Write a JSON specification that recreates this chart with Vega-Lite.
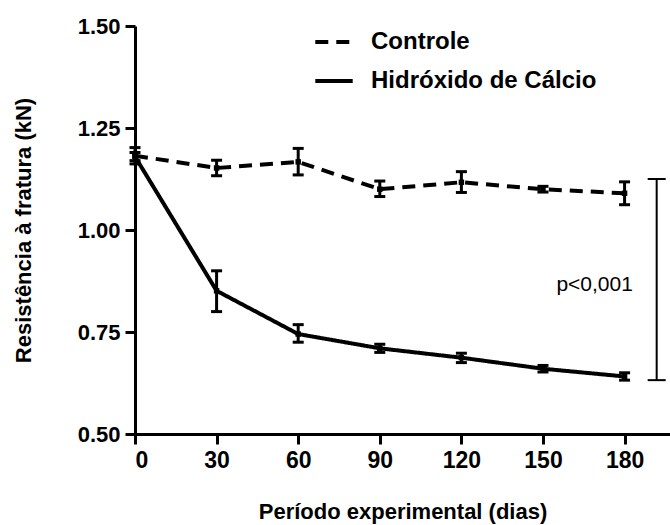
{
  "$schema": "https://vega.github.io/schema/vega-lite/v6.json",
  "autosize": "none",
  "width": 535,
  "height": 408,
  "padding": {"left": 135, "top": 26, "right": 0, "bottom": 91},
  "background": "white",
  "config": {
    "view": {"stroke": null},
    "font": "Liberation Sans",
    "axis": {
      "grid": false,
      "domainColor": "black",
      "domainWidth": 3,
      "tickColor": "black",
      "tickWidth": 3,
      "tickSize": 10,
      "labelFont": "Liberation Sans",
      "labelFontWeight": "bold",
      "labelFontSize": 22,
      "labelColor": "black",
      "labelPadding": 3,
      "titleFont": "Liberation Sans",
      "titleFontWeight": "bold",
      "titleFontSize": 22,
      "titleColor": "black"
    }
  },
  "datasets": {
    "series": [
      {"grupo": "Controle", "dia": 0, "media": 1.182, "lo": 1.162, "hi": 1.202},
      {"grupo": "Controle", "dia": 30, "media": 1.152, "lo": 1.133, "hi": 1.171},
      {"grupo": "Controle", "dia": 60, "media": 1.167, "lo": 1.135, "hi": 1.2},
      {"grupo": "Controle", "dia": 90, "media": 1.1, "lo": 1.082, "hi": 1.12},
      {"grupo": "Controle", "dia": 120, "media": 1.117, "lo": 1.092, "hi": 1.143},
      {"grupo": "Controle", "dia": 150, "media": 1.1, "lo": 1.093, "hi": 1.107},
      {"grupo": "Controle", "dia": 180, "media": 1.09, "lo": 1.062, "hi": 1.118},
      {"grupo": "Hidróxido de Cálcio", "dia": 0, "media": 1.18, "lo": 1.17, "hi": 1.19},
      {"grupo": "Hidróxido de Cálcio", "dia": 30, "media": 0.851, "lo": 0.8, "hi": 0.9},
      {"grupo": "Hidróxido de Cálcio", "dia": 60, "media": 0.745, "lo": 0.725, "hi": 0.768},
      {"grupo": "Hidróxido de Cálcio", "dia": 90, "media": 0.71, "lo": 0.7, "hi": 0.72},
      {"grupo": "Hidróxido de Cálcio", "dia": 120, "media": 0.687, "lo": 0.675, "hi": 0.698},
      {"grupo": "Hidróxido de Cálcio", "dia": 150, "media": 0.66, "lo": 0.652, "hi": 0.668},
      {"grupo": "Hidróxido de Cálcio", "dia": 180, "media": 0.641, "lo": 0.632, "hi": 0.65}
    ],
    "bracket": [
      {"x": 191.8, "y1": 0.632, "y2": 1.125}
    ],
    "nota": [
      {"x": 169, "y": 0.865, "texto": "p<0,001"}
    ]
  },
  "layer": [
    {
      "data": {"name": "series"},
      "mark": {"type": "rule", "color": "black", "strokeWidth": 3, "opacity": 1},
      "encoding": {
        "x": {"field": "dia", "type": "quantitative"},
        "y": {"field": "lo", "type": "quantitative"},
        "y2": {"field": "hi"}
      }
    },
    {
      "data": {"name": "series"},
      "mark": {"type": "tick", "orient": "horizontal", "color": "black", "size": 11, "thickness": 3, "opacity": 1},
      "encoding": {
        "x": {"field": "dia", "type": "quantitative"},
        "y": {"field": "lo", "type": "quantitative"}
      }
    },
    {
      "data": {"name": "series"},
      "mark": {"type": "tick", "orient": "horizontal", "color": "black", "size": 11, "thickness": 3, "opacity": 1},
      "encoding": {
        "x": {"field": "dia", "type": "quantitative"},
        "y": {"field": "hi", "type": "quantitative"}
      }
    },
    {
      "data": {"name": "series"},
      "mark": {"type": "line", "color": "black", "strokeWidth": 4, "opacity": 1},
      "encoding": {
        "x": {
          "field": "dia", "type": "quantitative",
          "scale": {"domain": [0, 196.7], "nice": false, "zero": false},
          "axis": {"values": [0, 30, 60, 90, 120, 150, 180], "title": "Período experimental (dias)", "titlePadding": 29, "labelPadding": 5, "labelFontSize": 23}
        },
        "y": {
          "field": "media", "type": "quantitative",
          "scale": {"domain": [0.5, 1.5], "nice": false, "zero": false},
          "axis": {"values": [0.5, 0.75, 1, 1.25, 1.5], "format": ".2f", "title": "Resistência à fratura (kN)", "titlePadding": 42, "labelPadding": 5}
        },
        "strokeDash": {
          "field": "grupo", "type": "nominal",
          "scale": {"domain": ["Controle", "Hidróxido de Cálcio"], "range": [[13, 8], [1, 0]]},
          "legend": {
            "title": null,
            "orient": "none",
            "legendX": 178,
            "legendY": -5,
            "symbolType": "stroke",
            "symbolSize": 1400,
            "symbolStrokeWidth": 4,
            "symbolStrokeColor": "black",
            "labelFont": "Liberation Sans",
            "labelFontWeight": "bold",
            "labelFontSize": 24,
            "labelColor": "black",
            "labelOffset": 16,
            "labelLimit": 0,
            "rowPadding": 6
          }
        }
      }
    },
    {
      "data": {"name": "series"},
      "mark": {"type": "point", "shape": "square", "filled": true, "color": "black", "size": 30, "opacity": 1},
      "encoding": {
        "x": {"field": "dia", "type": "quantitative"},
        "y": {"field": "media", "type": "quantitative"}
      }
    },
    {
      "data": {"name": "bracket"},
      "mark": {"type": "rule", "color": "black", "strokeWidth": 2, "opacity": 1},
      "encoding": {
        "x": {"field": "x", "type": "quantitative"},
        "y": {"field": "y1", "type": "quantitative"},
        "y2": {"field": "y2"}
      }
    },
    {
      "data": {"name": "bracket"},
      "mark": {"type": "tick", "orient": "horizontal", "color": "black", "size": 18, "thickness": 2, "opacity": 1},
      "encoding": {
        "x": {"field": "x", "type": "quantitative"},
        "y": {"field": "y1", "type": "quantitative"}
      }
    },
    {
      "data": {"name": "bracket"},
      "mark": {"type": "tick", "orient": "horizontal", "color": "black", "size": 18, "thickness": 2, "opacity": 1},
      "encoding": {
        "x": {"field": "x", "type": "quantitative"},
        "y": {"field": "y2", "type": "quantitative"}
      }
    },
    {
      "data": {"name": "nota"},
      "mark": {"type": "text", "font": "Liberation Sans", "fontSize": 21, "color": "black", "align": "center", "baseline": "middle"},
      "encoding": {
        "x": {"field": "x", "type": "quantitative"},
        "y": {"field": "y", "type": "quantitative"},
        "text": {"field": "texto"}
      }
    }
  ]
}
